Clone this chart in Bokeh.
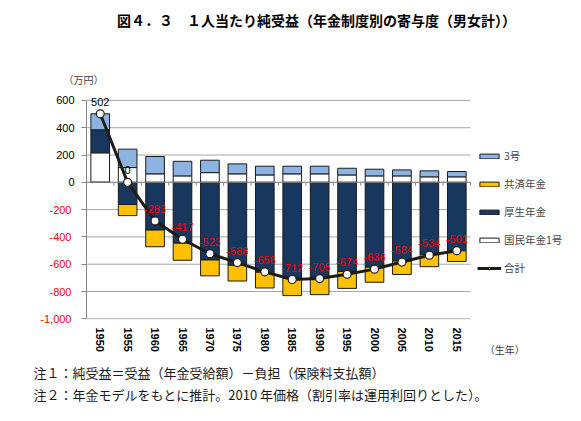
import numpy as np
from bokeh.plotting import figure
from bokeh.layouts import column
from bokeh.models import (ColumnDataSource, Range1d, FixedTicker, Title, Div,
                          Legend, LegendItem, NumeralTickFormatter, LinearAxis)
from bokeh.embed import file_html
from bokeh.resources import INLINE
from bokeh.core.properties import value

# ---- data (万円) ----
years = ["1950", "1955", "1960", "1965", "1970", "1975", "1980",
         "1985", "1990", "1995", "2000", "2005", "2010", "2015"]
kokumin1 = [216, 108, 62, 47, 71, 62, 54, 62, 62, 54, 47, 47, 40, 40]          # 国民年金1号
kosei = [169, -162, -350, -446, -569, -608, -659, -704, -695, -653, -622, -577, -528, -502]  # 厚生年金
kyosai = [0, -82, -122, -125, -116, -115, -115, -126, -128, -124, -110, -98, -90, -78]       # 共済年金
sango = [117, 135, 127, 107, 91, 73, 64, 56, 56, 49, 49, 44, 44, 39]            # 3号
total = [502, 0, -283, -417, -523, -588, -656, -712, -705, -674, -636, -584, -534, -501]  # 合計
y_ticks = [-1000, -800, -600, -400, -200, 0, 200, 400, 600]

title_text = "図４．３　１人当たり純受益（年金制度別の寄与度（男女計））"
note1 = "注１：純受益＝受益（年金受給額）－負担（保険料支払額）"
note2 = "注２：年金モデルをもとに推計。2010 年価格（割引率は運用利回りとした）。"

# ---- stacking ----
n = len(years)
xi = np.arange(n, dtype=float)
k1 = np.array(kokumin1, dtype=float)
ks = np.array(kosei, dtype=float)
ky = np.array(kyosai, dtype=float)
s3 = np.array(sango, dtype=float)
ks_pos = np.where(ks > 0, ks, 0)
ks_neg = np.where(ks < 0, ks, 0)

src = ColumnDataSource(dict(
    x=xi,
    k1_b=np.zeros_like(k1), k1_t=k1,
    ks_b=np.where(ks > 0, k1, 0), ks_t=np.where(ks > 0, k1 + ks, ks),
    s3_b=k1 + ks_pos, s3_t=k1 + ks_pos + s3,
    ky_b=ks_neg + ky, ky_t=ks_neg,
))

CJK = "Noto Sans CJK JP"
NUM = "Liberation Sans"

# page: title strip (Div) + figure
W, H_ALL, TH = 565, 405, 40
H = H_ALL - TH
left, right, top, bottom = 86, 0, 49, 86
x_end = -0.5 + n * (W - left - right) / 384.0

p = figure(x_range=Range1d(-0.5, x_end), y_range=Range1d(-1005, 680),
           width=W, height=H, output_backend="svg", toolbar_location=None,
           min_border_left=left, min_border_right=right,
           min_border_top=top, min_border_bottom=bottom)
p.outline_line_color = None
p.background_fill_color = "white"
p.xgrid.grid_line_color = None
p.ygrid.grid_line_color = None

# horizontal grid lines over the category extent only
gx0, gx1 = xi[0] - 0.5, xi[-1] + 0.5
p.segment(x0=[gx0] * len(y_ticks), x1=[gx1] * len(y_ticks), y0=y_ticks, y1=y_ticks,
          line_color="#a6a6a6", line_width=1)

bw = 0.68
edge = "#1a1a1a"
r_k1 = p.vbar(x="x", bottom="k1_b", top="k1_t", width=bw, source=src,
              fill_color="white", line_color=edge, line_width=1)
r_ks = p.vbar(x="x", bottom="ks_b", top="ks_t", width=bw, source=src,
              fill_color="#17375e", line_color=edge, line_width=1)
r_s3 = p.vbar(x="x", bottom="s3_b", top="s3_t", width=bw, source=src,
              fill_color="#8db3e2", line_color=edge, line_width=1)
r_ky = p.vbar(x="x", bottom="ky_b", top="ky_t", width=bw, source=src,
              fill_color="#ffc000", line_color=edge, line_width=1)

# category axis at zero, with small ticks between categories
p.segment(x0=[gx0], x1=[gx1], y0=[0], y1=[0], line_color="#868686", line_width=1)
bnd = np.append(xi - 0.5, xi[-1] + 0.5)
p.segment(x0=bnd, x1=bnd, y0=np.zeros_like(bnd), y1=np.full_like(bnd, -25),
          line_color="#868686", line_width=1)

# total line
tsrc = ColumnDataSource(dict(
    x=xi, y=total,
    label=[f"{v:,}" for v in total],
    color=["#ff0000" if v < 0 else "#000000" for v in total],
))
r_line = p.line(x="x", y="y", source=tsrc, line_color="#1e1b16", line_width=3)
r_pts = p.scatter(x="x", y="y", source=tsrc, size=8, marker="circle",
                  fill_color="white", line_color="#1e1b16", line_width=1.2)
p.text(x="x", y="y", text="label", text_color="color", source=tsrc,
       text_align="center", text_baseline="bottom", y_offset=-8,
       text_font=value(NUM), text_font_size=value("11px"))

# inner y axis: line, ticks and black (non-negative) labels
ya = p.yaxis[0]
ya.ticker = FixedTicker(ticks=y_ticks)
ya.bounds = (y_ticks[0], y_ticks[-1])
ya.formatter = NumeralTickFormatter(format="0,0")
ya.major_label_overrides = {t: "" for t in y_ticks if t < 0}
ya.axis_line_color = "#868686"
ya.major_tick_line_color = "#868686"
ya.major_tick_out = 5
ya.major_tick_in = 0
ya.minor_tick_line_color = None
ya.major_label_standoff = 7
ya.major_label_text_font = NUM
ya.major_label_text_font_size = "11px"
ya.major_label_text_color = "#000000"

# outer y axis: red negative labels shifted onto the same column
ya2 = LinearAxis(ticker=FixedTicker(ticks=[t for t in y_ticks if t < 0]),
                 formatter=NumeralTickFormatter(format="0,0"),
                 axis_line_color=None, major_tick_line_color=None,
                 minor_tick_line_color=None, major_tick_out=0, major_tick_in=0,
                 major_label_standoff=-18, major_label_text_font=NUM,
                 major_label_text_font_size="11px", major_label_text_color="#ff0000")
p.add_layout(ya2, "left")

# x axis: year labels
xa = p.xaxis[0]
xa.ticker = FixedTicker(ticks=list(xi))
xa.major_label_overrides = {float(i): y for i, y in zip(xi, years)}
xa.axis_line_color = None
xa.major_tick_line_color = None
xa.minor_tick_line_color = None
xa.major_tick_out = 0
xa.major_tick_in = 0
xa.major_label_orientation = "vertical"
xa.major_label_standoff = 8
xa.major_label_text_font = NUM
xa.major_label_text_font_style = "bold"
xa.major_label_text_font_size = "11px"
xa.major_label_text_color = "#000000"

# second x axis: unit label（生年）pulled up beside the year labels
unit_x = 14.75
xa2 = LinearAxis(ticker=FixedTicker(ticks=[unit_x]),
                 major_label_overrides={unit_x: "（生年）"},
                 axis_line_color=None, major_tick_line_color=None,
                 minor_tick_line_color=None, major_tick_out=0, major_tick_in=0,
                 major_label_standoff=-13, major_label_text_font=CJK,
                 major_label_text_font_size="10px", major_label_text_color="#404040")
p.add_layout(xa2, "below")

# legend (inside the widened frame, right of the bars)
legend = Legend(items=[
    LegendItem(label="3号", renderers=[r_s3]),
    LegendItem(label="共済年金", renderers=[r_ky]),
    LegendItem(label="厚生年金", renderers=[r_ks]),
    LegendItem(label="国民年金1号", renderers=[r_k1]),
    LegendItem(label="合計", renderers=[r_line, r_pts]),
], location=(391, 41), glyph_width=24, glyph_height=6, label_height=21, spacing=7,
    padding=0, margin=0, label_standoff=3, border_line_color=None,
    background_fill_alpha=0, label_text_font=CJK, label_text_font_size="10.5px")
p.add_layout(legend)

# unit label and notes
def title(t, where, offset, standoff, size, color="#000000"):
    p.add_layout(Title(text=t, align="left", offset=offset, standoff=standoff,
                       text_font=CJK, text_font_size=size, text_color=color,
                       text_font_style="normal"), where)

title("（万円）", "above", -23, 6, "10px", color="#404040")
title(note1, "below", -53, 2, "13px", color="#1a1a1a")
title(note2, "below", -53, 0, "13px", color="#1a1a1a")

# main title strip
head = Div(text=title_text, width=W, height=TH, margin=0,
           styles={"font-family": f"'{CJK}'", "font-size": "14px", "font-weight": "bold",
                   "line-height": f"{TH}px", "text-indent": "117px",
                   "white-space": "nowrap", "color": "#000000"})

page = column(head, p, spacing=0)
open("out.html", "w").write(file_html(page, INLINE))
